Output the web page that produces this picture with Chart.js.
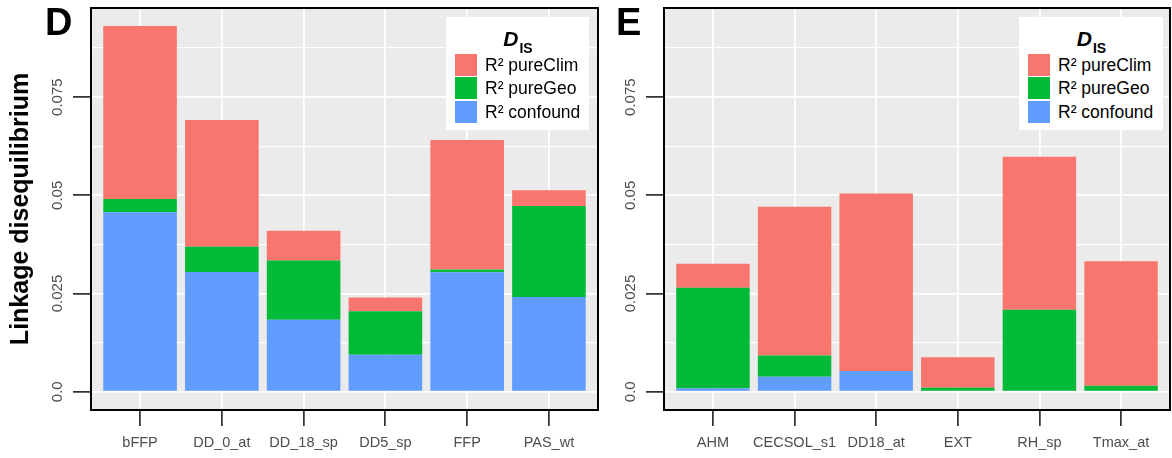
<!DOCTYPE html>
<html>
<head>
<meta charset="utf-8">
<script src="https://cdn.jsdelivr.net/npm/chart.js@4"></script>
<style>
  html, body { margin:0; padding:0; background:#fff; }
  body { width:1172px; height:458px; position:relative; overflow:hidden; font-family:"Liberation Sans", Arial, sans-serif; }
  canvas { position:absolute; top:0; }
  .panel { position:absolute; font-weight:bold; font-size:38px; line-height:1; color:#000; }
  .legend { position:absolute; background:#fff; }
  .ltitle { position:absolute; left:0; right:0; top:0; text-align:center; white-space:nowrap; }
  .ltitle .big { font-style:italic; font-weight:bold; font-size:21px; line-height:1; position:absolute; top:11px; }
  .ltitle .sub { font-weight:bold; font-size:14px; line-height:1; position:absolute; top:24px; }
  .key { position:absolute; width:22px; height:22px; }
  .ltxt { position:absolute; font-size:17.5px; line-height:22px; color:#000; white-space:nowrap; }
</style>
</head>
<body>
<canvas id="cD" width="600" height="458" style="left:0px"></canvas>
<canvas id="cE" width="572" height="458" style="left:600px"></canvas>
<div class="panel" style="left:45px; top:3px;">D</div>
<div class="panel" style="left:616px; top:3px;">E</div>
<div class="legend" id="legD" style="left:446px; top:17px; width:143px; height:113px;"></div>
<div class="legend" id="legE" style="left:1019px; top:17px; width:144px; height:113px;"></div>
<script>
// ---- data ----
const seriesNames = ['R\u00B2 pureClim', 'R\u00B2 pureGeo', 'R\u00B2 confound'];
const seriesColors = ['#F8766D', '#00BA38', '#619CFF'];

const categoriesD = ['bFFP', 'DD_0_at', 'DD_18_sp', 'DD5_sp', 'FFP', 'PAS_wt'];
const pureClimD = [0.0440, 0.0323, 0.0076, 0.0035, 0.0330, 0.0040];
const pureGeoD  = [0.0034, 0.0064, 0.0151, 0.0111, 0.0007, 0.0232];
const confoundD = [0.0457, 0.0305, 0.0183, 0.0094, 0.0304, 0.0241];

const categoriesE = ['AHM', 'CECSOL_s1', 'DD18_at', 'EXT', 'RH_sp', 'Tmax_at'];
const pureClimE = [0.0061, 0.0379, 0.0452, 0.0078, 0.0389, 0.0317];
const pureGeoE  = [0.0256, 0.0054, 0.0000, 0.0010, 0.0209, 0.0015];
const confoundE = [0.0009, 0.0038, 0.0053, 0.0000, 0.0000, 0.0000];

const yTicks = [0, 0.025, 0.05, 0.075];
const yTickLabels = ['0.0', '0.025', '0.05', '0.075'];
const yMinorTicks = [0.0125, 0.0375, 0.0625, 0.0875];
const yMin = -0.00465, yMax = 0.0977;

const yTitle = 'Linkage disequilibrium';
const legendTitleMain = 'D', legendTitleSub = 'IS';

// ---- helpers ----
const FONT = '"Liberation Sans", Arial, sans-serif';
const isMajor = v => yTicks.some(t => Math.abs(t - v) < 1e-9);

const panelPlugin = {
  id: 'panel',
  beforeDraw(chart) {
    const {ctx, chartArea: a} = chart;
    ctx.save();
    ctx.fillStyle = '#EBEBEB';
    ctx.fillRect(a.left, a.top, a.right - a.left, a.bottom - a.top);
    ctx.restore();
  },
  afterDraw(chart) {
    const {ctx, chartArea: a} = chart;
    ctx.save();
    ctx.strokeStyle = '#000';
    ctx.lineWidth = 2;
    ctx.strokeRect(a.left, a.top, a.right - a.left, a.bottom - a.top);
    ctx.restore();
  }
};

function makeChart(id, cats, clim, geo, conf, yAxisWidth, showTitle) {
  const pts = arr => arr.map((v, i) => ({x: i + 1, y: v}));
  const stacks = [conf, geo, clim];
  const order = [2, 1, 0]; // dataset index -> series index
  const datasets = stacks.map((arr, k) => ({
    label: seriesNames[order[k]],
    data: pts(arr),
    backgroundColor: seriesColors[order[k]],
    borderWidth: 0,
    categoryPercentage: 1.0,
    barPercentage: 0.9
  }));
  return new Chart(document.getElementById(id), {
    type: 'bar',
    data: { datasets },
    options: {
      responsive: false,
      animation: false,
      devicePixelRatio: 1,
      layout: { padding: { top: 8, right: 2, bottom: 0, left: 0 } },
      plugins: { legend: { display: false }, tooltip: { enabled: false } },
      scales: {
        x: {
          type: 'linear',
          stacked: true,
          offset: false,
          min: 0.4,
          max: cats.length + 0.6,
          afterBuildTicks: s => { s.ticks = cats.map((c, i) => ({value: i + 1})); },
          afterFit: s => { s.height = 48; },
          border: { display: false },
          grid: { offset: false, color: '#FFFFFF', lineWidth: 1.8, tickColor: '#000', tickWidth: 1.4, tickLength: 16, drawOnChartArea: true },
          ticks: {
            autoSkip: false,
            maxRotation: 0,
            padding: 8,
            color: '#4D4D4D',
            font: { family: FONT, size: 14.5 },
            callback: v => cats[Math.round(v) - 1] || ''
          }
        },
        y: {
          type: 'linear',
          stacked: true,
          min: yMin,
          max: yMax,
          afterBuildTicks: s => { s.ticks = yTicks.concat(yMinorTicks).sort((a, b) => a - b).map(v => ({value: v})); },
          afterFit: s => { s.width = yAxisWidth; },
          border: { display: false },
          grid: {
            color: '#FFFFFF',
            lineWidth: c => isMajor(c.tick.value) ? 1.8 : 1.2,
            tickColor: c => isMajor(c.tick.value) ? '#000' : 'rgba(0,0,0,0)',
            tickWidth: 1.4,
            tickLength: 18
          },
          ticks: {
            autoSkip: false,
            minRotation: 90,
            maxRotation: 90,
            crossAlign: 'center',
            padding: -4,
            color: '#4D4D4D',
            font: { family: FONT, size: 15 },
            callback: v => { const i = yTicks.findIndex(t => Math.abs(t - v) < 1e-9); return i >= 0 ? yTickLabels[i] : ''; }
          },
          title: {
            display: showTitle,
            text: yTitle,
            color: '#000',
            font: { family: FONT, size: 25, weight: 'bold' },
            padding: { top: 6, bottom: 0 }
          }
        }
      }
    },
    plugins: [panelPlugin]
  });
}

makeChart('cD', categoriesD, pureClimD, pureGeoD, confoundD, 91, true);
makeChart('cE', categoriesE, pureClimE, pureGeoE, confoundE, 64, false);

function buildLegend(id) {
  const box = document.getElementById(id);
  const t = document.createElement('div');
  t.className = 'ltitle';
  const w = box.offsetWidth;
  const big = document.createElement('span'); big.className = 'big'; big.textContent = legendTitleMain;
  const sub = document.createElement('span'); sub.className = 'sub'; sub.textContent = legendTitleSub;
  t.appendChild(big); t.appendChild(sub);
  box.appendChild(t);
  const bw = big.getBoundingClientRect().width, sw = sub.getBoundingClientRect().width;
  const start = (w - bw - sw) / 2;
  big.style.left = start + 'px';
  sub.style.left = (start + bw + 1) + 'px';
  seriesNames.forEach((n, i) => {
    const k = document.createElement('div');
    k.className = 'key';
    k.style.left = '9px';
    k.style.top = (37 + i * 23.3) + 'px';
    k.style.background = seriesColors[i];
    box.appendChild(k);
    const tx = document.createElement('div');
    tx.className = 'ltxt';
    tx.style.left = '39px';
    tx.style.top = (37 + i * 23.3) + 'px';
    tx.textContent = n;
    box.appendChild(tx);
  });
}
buildLegend('legD');
buildLegend('legE');
</script>
</body>
</html>
